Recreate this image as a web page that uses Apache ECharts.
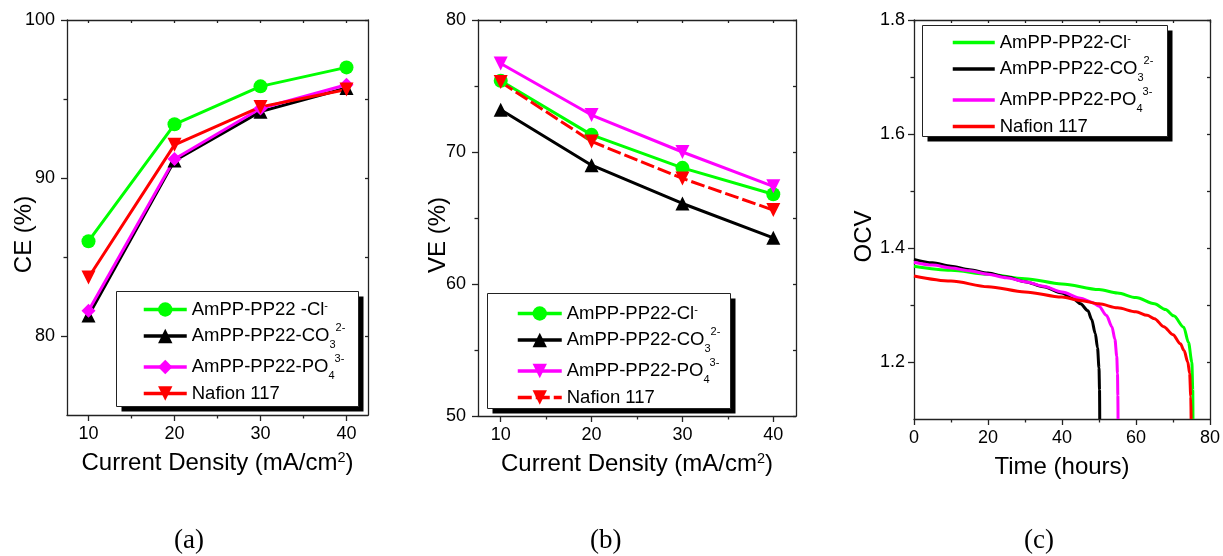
<!DOCTYPE html>
<html>
<head>
<meta charset="utf-8">
<script src="https://cdn.jsdelivr.net/npm/echarts@6/dist/echarts.min.js"></script>
<style>
  html, body { margin: 0; padding: 0; background: #fff; }
  #main { width: 1223px; height: 556px; }
</style>
</head>
<body>
<div id="main"></div>
<script>
// ---- data ----
var currentDensity = [10, 20, 30, 40];

// (a) coulombic efficiency, %
var ceCl = [86.0, 93.4, 95.8, 97.0];
var ceCO3 = [81.3, 91.1, 94.2, 95.7];
var cePO4 = [81.6, 91.2, 94.4, 95.9];
var ceNafion = [83.7, 92.1, 94.5, 95.6];

// (b) voltage efficiency, %
var veCl = [75.4, 71.3, 68.8, 66.8];
var veCO3 = [73.2, 69.0, 66.1, 63.5];
var vePO4 = [76.7, 72.8, 70.0, 67.4];
var veNafion = [75.3, 70.8, 68.0, 65.6];

// (c) open circuit voltage vs time (hours)
var clTime = [0, 10, 20, 30, 40, 50, 55, 60, 65, 68, 70.2, 72.9, 74.2, 75.1, 75.35, 75.4];
var clOcv = [1.368, 1.361, 1.354, 1.346, 1.337, 1.327, 1.321, 1.313, 1.302, 1.292, 1.281, 1.261, 1.234, 1.200, 1.150, 1.100];
var co3Time = [0, 5, 10, 15, 20, 25, 30, 35, 40, 43, 45, 47, 48, 49, 49.6, 50, 50.15, 50.2];
var co3Ocv = [1.380, 1.374, 1.368, 1.362, 1.356, 1.349, 1.341, 1.332, 1.321, 1.311, 1.302, 1.290, 1.275, 1.250, 1.225, 1.190, 1.150, 1.100];
var po4Time = [0, 5, 10, 15, 20, 25, 30, 35, 40, 45, 48, 50, 52, 53.5, 54.3, 54.8, 55.0, 55.1, 55.15];
var po4Ocv = [1.375, 1.370, 1.365, 1.360, 1.354, 1.348, 1.341, 1.333, 1.323, 1.312, 1.305, 1.298, 1.282, 1.262, 1.240, 1.210, 1.180, 1.140, 1.100];
var nafTime = [0, 10, 20, 30, 40, 45, 50, 55, 60, 63, 65, 67.5, 70, 72, 73, 74, 74.5, 74.8, 74.9];
var nafOcv = [1.351, 1.342, 1.332, 1.323, 1.314, 1.308, 1.302, 1.295, 1.288, 1.282, 1.276, 1.262, 1.248, 1.232, 1.220, 1.200, 1.180, 1.140, 1.100];

// tick labels
var densityTicks = [10, 20, 30, 40];
var densityMinor = [15, 25, 35];
var ceTicks = [80, 90, 100];
var ceMinor = [85, 95];
var veTicks = [50, 60, 70, 80];
var veMinor = [55, 65, 75];
var timeTicks = [0, 20, 40, 60, 80];
var timeMinor = [10, 30, 50, 70];
var ocvTicks = [1.2, 1.4, 1.6, 1.8];
var ocvMinor = [1.3, 1.5, 1.7];

// legend labels (rich text for sub/superscripts)
var legendLabels = {
  'CE-Cl': '{t1|AmPP-PP22 -Cl}{s1|-}',
  'CE-CO3': '{t2|AmPP-PP22-CO}{b2|3}{s2|2-}',
  'CE-PO4': '{t2|AmPP-PP22-PO}{b2|4}{s2|3-}',
  'CE-Naf': '{t4|Nafion 117}',
  'VE-Cl': '{t1|AmPP-PP22-Cl}{s1|-}',
  'VE-CO3': '{t2|AmPP-PP22-CO}{b2|3}{s2|2-}',
  'VE-PO4': '{t2|AmPP-PP22-PO}{b2|4}{s2|3-}',
  'VE-Naf': '{t4|Nafion 117}',
  'OCV-Cl': '{t1|AmPP-PP22-Cl}{s1|-}',
  'OCV-CO3': '{t2|AmPP-PP22-CO}{b2|3}{s2|2-}',
  'OCV-PO4': '{t2|AmPP-PP22-PO}{b2|4}{s2|3-}',
  'OCV-Naf': '{t4|Nafion 117}'
};

var GREEN = '#00ff00', BLACK = '#000000', MAGENTA = '#ff00ff', RED = '#ff0000';
var FONT = '"Liberation Sans", Arial, sans-serif';
var AXIS = '#222';

function zip(xs, ys) {
  return xs.map(function (x, i) { return [x, ys[i]]; });
}

var grids = [], xAxes = [], yAxes = [];

function addPanel(box, xc, yc) {
  var gi = grids.length;
  grids.push({ left: box[0], top: box[1], width: box[2], height: box[3], show: false });
  var xi = xAxes.length, yi = yAxes.length;
  var lineStyle = { color: AXIS, width: 1.3 };
  xAxes.push({
    gridIndex: gi, type: 'value', position: 'bottom', min: xc.min, max: xc.max,
    name: xc.name, nameLocation: 'middle', nameGap: xc.nameGap, nameMoveOverlap: false,
    nameTextStyle: {
      fontFamily: FONT, fontSize: 24, color: '#000', lineHeight: 27,
      rich: { sup: { fontFamily: FONT, fontSize: 14.5, lineHeight: 11, verticalAlign: 'top', color: '#000' } }
    },
    axisLine: { show: true, onZero: false, lineStyle: lineStyle },
    axisTick: { show: true, inside: false, length: 6, customValues: xc.major, lineStyle: lineStyle },
    axisLabel: { show: true, margin: 10, customValues: xc.major, fontFamily: FONT, fontSize: 18, color: '#000' },
    splitLine: { show: false }
  });
  xAxes.push({
    gridIndex: gi, type: 'value', position: 'bottom', min: xc.min, max: xc.max,
    axisLine: { show: false },
    axisTick: { show: true, inside: false, length: 3.5, customValues: xc.minor, lineStyle: lineStyle },
    axisLabel: { show: false }, splitLine: { show: false }
  });
  xAxes.push({
    gridIndex: gi, type: 'value', position: 'top', min: xc.min, max: xc.max,
    axisLine: { show: true, onZero: false, lineStyle: lineStyle },
    axisTick: { show: true, inside: true, length: 3, customValues: xc.major.concat(xc.minor), lineStyle: lineStyle },
    axisLabel: { show: false }, splitLine: { show: false }
  });
  yAxes.push({
    gridIndex: gi, type: 'value', position: 'left', min: yc.min, max: yc.max,
    name: yc.name, nameLocation: 'middle', nameGap: yc.nameGap, nameRotate: 90, nameMoveOverlap: false,
    nameTextStyle: { fontFamily: FONT, fontSize: 24, color: '#000', padding: [0, 34, 0, 0] },
    axisLine: { show: true, onZero: false, lineStyle: lineStyle },
    axisTick: { show: true, inside: false, length: 6, customValues: yc.major, lineStyle: lineStyle },
    axisLabel: { show: true, margin: yc.margin, customValues: yc.major, fontFamily: FONT, fontSize: 18, color: '#000' },
    splitLine: { show: false }
  });
  yAxes.push({
    gridIndex: gi, type: 'value', position: 'left', min: yc.min, max: yc.max,
    axisLine: { show: false },
    axisTick: { show: true, inside: false, length: 3.5, customValues: yc.minor, lineStyle: lineStyle },
    axisLabel: { show: false }, splitLine: { show: false }
  });
  yAxes.push({
    gridIndex: gi, type: 'value', position: 'right', min: yc.min, max: yc.max,
    axisLine: { show: true, onZero: false, lineStyle: lineStyle },
    axisTick: { show: true, inside: true, length: 3, customValues: yc.major.concat(yc.minor), lineStyle: lineStyle },
    axisLabel: { show: false }, splitLine: { show: false }
  });
  return { x: xi, y: yi };
}

var pa = addPanel([67, 20, 301, 395],
  { min: 7.5, max: 42.5, major: densityTicks, minor: densityMinor, name: 'Current Density (mA/cm{sup|2})', nameGap: 35 },
  { min: 75, max: 100, major: ceTicks, minor: ceMinor, name: 'CE (%)', nameGap: 31, margin: 12 });
var pb = addPanel([478, 20, 318, 396],
  { min: 7.5, max: 42.5, major: densityTicks, minor: densityMinor, name: 'Current Density (mA/cm{sup|2})', nameGap: 35 },
  { min: 50, max: 80, major: veTicks, minor: veMinor, name: 'VE (%)', nameGap: 28, margin: 12 });
var pc = addPanel([914, 20, 299, 399],
  { min: 0, max: 80, major: timeTicks, minor: timeMinor, name: 'Time (hours)', nameGap: 35 },
  { min: 1.1, max: 1.8, major: ocvTicks, minor: ocvMinor, name: 'OCV', nameGap: 38, margin: 9 });

function markerSeries(name, p, ys, color, symbol, rotate, dashed) {
  return {
    type: 'line', name: name, xAxisIndex: p.x, yAxisIndex: p.y,
    data: zip(currentDensity, ys),
    symbol: symbol, symbolSize: 14, symbolRotate: rotate || 0,
    lineStyle: { color: color, width: 3, type: dashed ? [14, 4] : 'solid' },
    itemStyle: { color: color }
  };
}

function curveSeries(name, p, ts, vs, color) {
  return {
    type: 'line', name: name, xAxisIndex: p.x, yAxisIndex: p.y,
    data: zip(ts, vs), symbol: 'none', showSymbol: false,
    smooth: 0.3, smoothMonotone: 'x',
    lineStyle: { color: color, width: 3 }, itemStyle: { color: color }
  };
}

var series = [
  markerSeries('CE-Cl', pa, ceCl, GREEN, 'circle'),
  markerSeries('CE-CO3', pa, ceCO3, BLACK, 'triangle'),
  markerSeries('CE-PO4', pa, cePO4, MAGENTA, 'diamond'),
  markerSeries('CE-Naf', pa, ceNafion, RED, 'triangle', 180),
  markerSeries('VE-Cl', pb, veCl, GREEN, 'circle'),
  markerSeries('VE-CO3', pb, veCO3, BLACK, 'triangle'),
  markerSeries('VE-PO4', pb, vePO4, MAGENTA, 'triangle', 180),
  markerSeries('VE-Naf', pb, veNafion, RED, 'triangle', 180, true),
  curveSeries('OCV-Cl', pc, clTime, clOcv, GREEN),
  curveSeries('OCV-CO3', pc, co3Time, co3Ocv, BLACK),
  curveSeries('OCV-PO4', pc, po4Time, po4Ocv, MAGENTA),
  curveSeries('OCV-Naf', pc, nafTime, nafOcv, RED)
];

var legendText = {
  fontFamily: FONT, fontSize: 18.5, color: '#000',
  rich: {
    t1: { fontFamily: FONT, fontSize: 18.5, lineHeight: 18, color: '#000' },
    s1: { fontFamily: FONT, fontSize: 11, lineHeight: 2, verticalAlign: 'top', color: '#000' },
    t2: { fontFamily: FONT, fontSize: 18.5, lineHeight: 28, color: '#000' },
    s2: { fontFamily: FONT, fontSize: 11, lineHeight: 12, verticalAlign: 'top', color: '#000' },
    b2: { fontFamily: FONT, fontSize: 11, lineHeight: 14, verticalAlign: 'bottom', color: '#000' },
    t4: { fontFamily: FONT, fontSize: 18.5, lineHeight: 22, color: '#000' }
  }
};

function makeLegend(prefix, left, top, padding, itemWidth, lineOnly) {
  var lg = {
    orient: 'vertical', left: left, top: top, padding: padding,
    itemWidth: itemWidth, itemHeight: 18, itemGap: 3,
    selectedMode: false,
    lineStyle: { width: 3.5 },
    data: [prefix + '-Cl', prefix + '-CO3', prefix + '-PO4', prefix + '-Naf'],
    formatter: function (n) { return legendLabels[n]; },
    textStyle: legendText
  };
  if (lineOnly) lg.itemStyle = { opacity: 0 };
  return lg;
}

// framed legend box with a solid drop shadow: [left, top, width, height]
function legendFrame(b) {
  return [
    { type: 'rect', z: 3, shape: { x: b[0] + 5, y: b[1] + 5, width: b[2], height: b[3] }, style: { fill: '#000' } },
    { type: 'rect', z: 3, shape: { x: b[0], y: b[1], width: b[2], height: b[3] }, style: { fill: '#fff', stroke: AXIS, lineWidth: 1 } }
  ];
}

var chart = echarts.init(document.getElementById('main'), null, { renderer: 'canvas' });

var captionFont = '27px "Liberation Serif", "Times New Roman", serif';
chart.setOption({
  animation: false,
  backgroundColor: '#fff',
  grid: grids,
  xAxis: xAxes,
  yAxis: yAxes,
  legend: [
    makeLegend('CE', 116, 291, [9, 14, 0, 26], 43),
    makeLegend('VE', 487, 293, [11, 14, 0, 29], 44),
    makeLegend('OCV', 922, 25, [8, 14, 0, 29], 42, true)
  ],
  series: series,
  graphic: legendFrame([116.5, 291.5, 242, 115])
    .concat(legendFrame([487.5, 293.5, 243, 115]))
    .concat(legendFrame([922.5, 25.5, 245, 111]))
    .concat([
      { type: 'text', left: 174, top: 527, style: { text: '(a)', font: captionFont, fill: '#000' } },
      { type: 'text', left: 590, top: 527, style: { text: '(b)', font: captionFont, fill: '#000' } },
      { type: 'text', left: 1024, top: 527, style: { text: '(c)', font: captionFont, fill: '#000' } }
    ])
});
</script>
</body>
</html>
